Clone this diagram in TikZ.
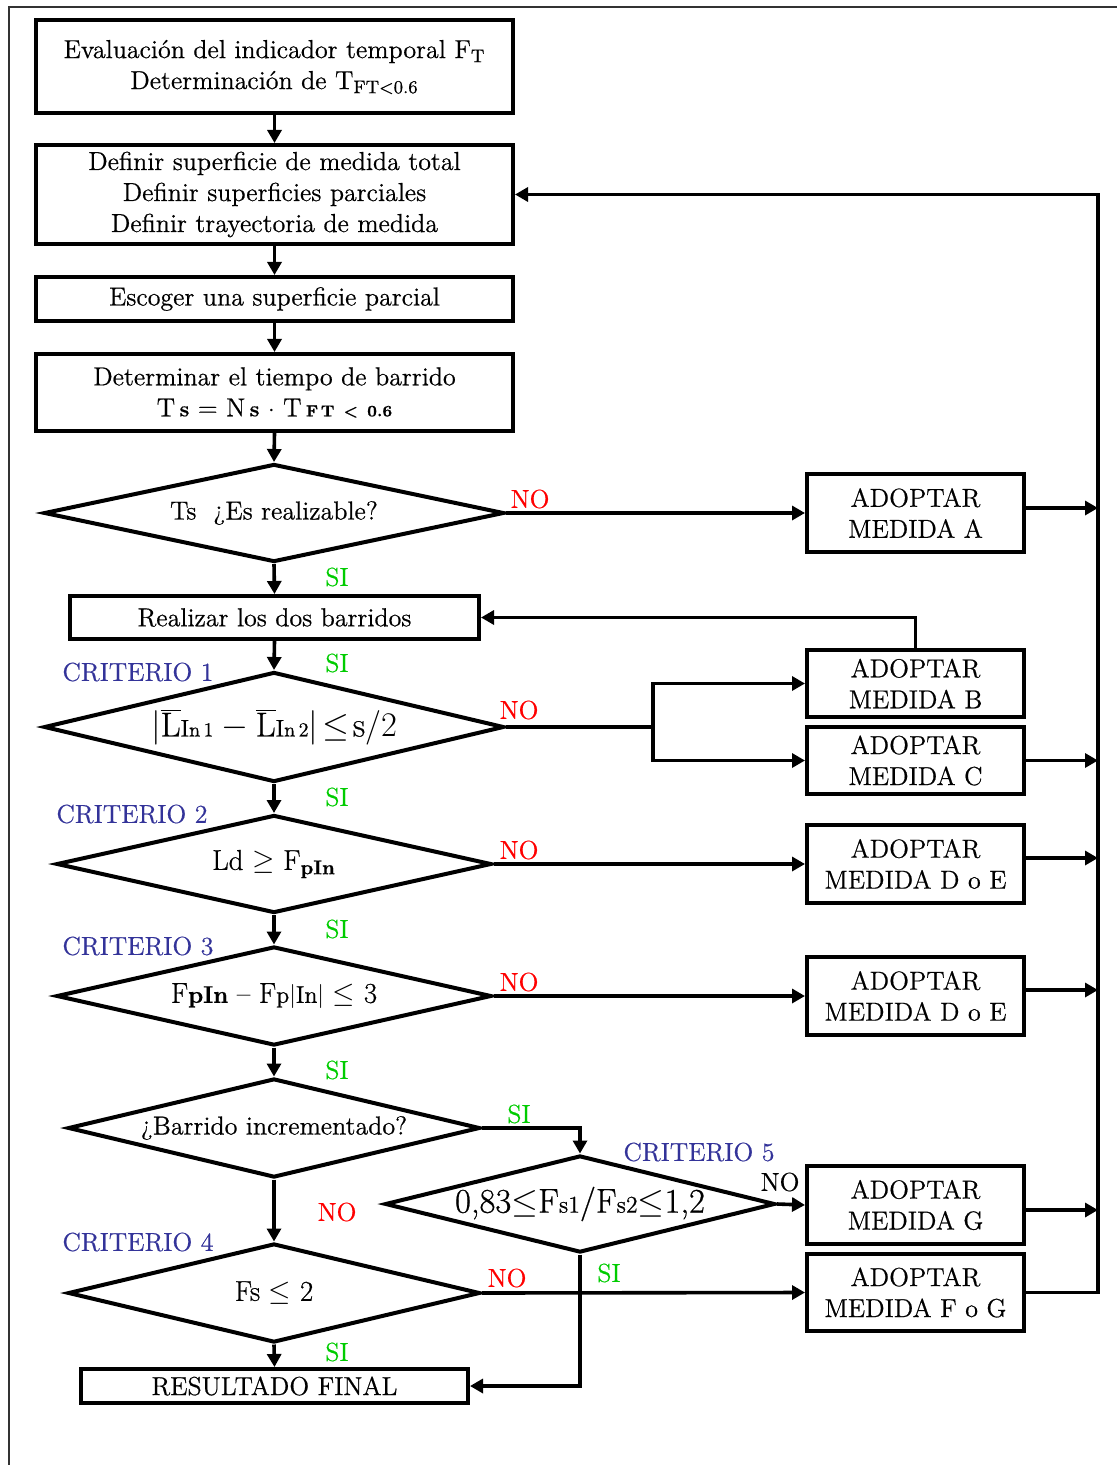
\documentclass[tikz,border=0pt,12pt]{standalone}
\usepackage{fontspec}
\setmainfont{Latin Modern Roman}[FakeBold=0.6]
\usetikzlibrary{arrows.meta,shapes.geometric}
\definecolor{critblue}{RGB}{51,51,153}
\definecolor{sigreen}{RGB}{0,204,0}
\definecolor{nored}{RGB}{255,0,0}
\tikzset{
  box/.style={draw, line width=2pt, rectangle, inner sep=0pt, align=center,
              font=\fontsize{13}{15.5}\selectfont},
  mbox/.style={box, minimum width=108.5pt},
  dia/.style={draw, line width=2pt, diamond, aspect=4, inner sep=0pt, align=center,
              font=\fontsize{13}{15.5}\selectfont},
  link/.style={line width=1.8pt},
  arr/.style={link, -{Triangle[length=6.5pt,width=7pt]}},
  nolab/.style={text=nored, inner sep=0pt, font=\fontsize{13}{14}\selectfont},
  nolabk/.style={text=black, inner sep=0pt, font=\fontsize{13}{14}\selectfont},
  silab/.style={text=sigreen, inner sep=0pt, font=\fontsize{13}{14}\selectfont},
  critlab/.style={text=critblue, inner sep=0pt, font=\fontsize{13}{14}\selectfont},
}
\begin{document}
\begin{tikzpicture}[x=0.5pt,y=-0.5pt]
\useasboundingbox (0,0) rectangle (1117,1465);
% outer frame
\draw[line width=0.8pt, black!80] (9,1465) -- (9,7) -- (1117,7);

% main column
\node[box, minimum width=238.5pt, minimum height=46.5pt] (b1) at (274.5,67)
  {Evaluación del indicador temporal F\textsubscript{T}\\
   Determinación de T\textsubscript{FT<0.6}};
\node[box, minimum width=238.5pt, minimum height=49.5pt] (b2) at (274.5,194.5)
  {Definir superficie de medida total\\Definir superficies parciales\\Definir trayectoria de medida};
\node[box, minimum width=238.5pt, minimum height=22pt] (b3) at (274.5,299)
  {Escoger una superficie parcial};
\node[box, minimum width=238.5pt, minimum height=38.5pt] (b4) at (274.5,392.5)
  {Determinar el tiempo de barrido\\
   T\,{\small\bfseries s} = N\,{\small\bfseries s} $\cdot$ T\,{\scriptsize\bfseries F\,T \,<\, 0.6}};
\node[dia, minimum width=230pt, minimum height=49pt] (d1) at (274,513)
  {Ts \ ¿Es realizable?};
\node[box, minimum width=204.5pt, minimum height=21.5pt] (real) at (274.5,617.5)
  {Realizar los dos barridos};
\node[dia, minimum width=230pt, minimum height=55pt] (d2) at (274,727)
  {\Large$\left|\overline{\textrm{L}}\textrm{\normalsize I\footnotesize n\,1}-\overline{\textrm{L}}\textrm{\normalsize I\footnotesize n\,2}\right|\!\leq\!\textrm{s}/2$};
\node[dia, minimum width=217.5pt, minimum height=49pt] (d3) at (274,864)
  {\large Ld $\geq$ F\textsubscript{\bfseries pIn}};
\node[dia, minimum width=217.5pt, minimum height=49.5pt] (d4) at (274,996)
  {\large F{\normalsize\bfseries pIn} – F{\normalsize p$|$In$|$} $\leq$ 3};
\node[dia, minimum width=206pt, minimum height=49.5pt] (d5) at (274,1128)
  {¿Barrido incrementado?};
\node[dia, minimum width=195pt, minimum height=48.5pt] (d6) at (580,1204)
  {\Large 0,83$\leq$F{\normalsize s1}/F{\normalsize s2}$\leq$1,2};
\node[dia, minimum width=206pt, minimum height=49.5pt] (d7) at (274,1293)
  {\large Fs $\leq$ 2};
\node[box, minimum width=193.5pt, minimum height=17pt] (res) at (274.5,1386)
  {RESULTADO FINAL};

% right column
\node[mbox, minimum height=39pt] (mA) at (915.5,513) {ADOPTAR\\MEDIDA A};
\node[mbox, minimum height=33.5pt] (mB) at (915.5,683.5) {ADOPTAR\\MEDIDA B};
\node[mbox, minimum height=33.5pt] (mC) at (915.5,760.5) {ADOPTAR\\MEDIDA C};
\node[mbox, minimum height=39pt] (mDE1) at (915.5,864) {ADOPTAR\\MEDIDA D o E};
\node[mbox, minimum height=39pt] (mDE2) at (915.5,996) {ADOPTAR\\MEDIDA D o E};
\node[mbox, minimum height=39pt] (mG) at (915.5,1205) {ADOPTAR\\MEDIDA G};
\node[mbox, minimum height=38.5pt] (mFG) at (915.5,1292.5) {ADOPTAR\\MEDIDA F o G};

% bus coordinates
\coordinate (busB) at (1098,1292.5);
\coordinate (busT) at (1098,194.5);
\coordinate (j2) at (653,727);

% main flow
\draw[arr] (b1.south) -- (b2.north);
\draw[arr] (b2.south) -- (b3.north);
\draw[arr] (b3.south) -- (b4.north);
\draw[arr] (b4.south) -- (d1.north);
\draw[arr] (d1.south) -- (real.north);
\draw[arr] (real.south) -- (d2.north);
\draw[arr] (d2.south) -- (d3.north);
\draw[arr] (d3.south) -- (d4.north);
\draw[arr] (d4.south) -- (d5.north);
\draw[arr] (d5.south) -- (d7.north);
\draw[arr] (d7.south) -- (res.north);
\draw[arr] (d5.east) -| (d6.north);
\draw[arr] (d6.south) |- (res.east);

% NO branches
\draw[arr] (d1.east) -- (mA.west);
\draw[link] (d2.east) -- (j2);
\draw[arr] (j2) |- (mB.west);
\draw[arr] (j2) |- (mC.west);
\draw[arr] (mB.north) |- (real.east);
\draw[arr] (d3.east) -- (mDE1.west);
\draw[arr] (d4.east) -- (mDE2.west);
\draw[arr] (d6.east) -- (mG.west);
\draw[arr] (d7.east) -- (mFG.west);

% feedback bus
\draw[arr] (mFG.east) -- (busB) -- (busT) -- (b2.east);
\draw[arr] ([yshift=2.5pt]mA.east) -- ([yshift=2.5pt]mA.east -| busT);
\draw[arr] (mC.east) -- (mC.east -| busT);
\draw[arr] ([yshift=3pt]mDE1.east) -- ([yshift=3pt]mDE1.east -| busT);
\draw[arr] ([yshift=3pt]mDE2.east) -- ([yshift=3pt]mDE2.east -| busT);
\draw[arr] ([yshift=-2.5pt]mG.east) -- ([yshift=-2.5pt]mG.east -| busT);

% labels
\node[nolab] (no1) at (530,499) {NO};
\node[nolab] (no2) at (519,710) {NO};
\node[nolab] (no3) at (519,850) {NO};
\node[nolab] (no4) at (519,982) {NO};
\node[nolab] (no5) at (337,1212) {NO};
\node[nolab] (no6) at (507,1278) {NO};
\node[nolabk] (no7) at (780,1182) {NO};
\node[silab] (si1) at (337,577) {SI};
\node[silab] (si2) at (337,663) {SI};
\node[silab] (si3) at (337,797) {SI};
\node[silab] (si4) at (337,929) {SI};
\node[silab] (si5) at (337,1070) {SI};
\node[silab] (si6) at (519,1114) {SI};
\node[silab] (si7) at (609,1273) {SI};
\node[silab] (si8) at (337,1352) {SI};
\node[critlab] (c1) at (138,672) {CRITERIO 1};
\node[critlab] (c2) at (132,814) {CRITERIO 2};
\node[critlab] (c3) at (138,946) {CRITERIO 3};
\node[critlab] (c4) at (138,1242) {CRITERIO 4};
\node[critlab] (c5) at (699,1152) {CRITERIO 5};
\end{tikzpicture}
\end{document}
